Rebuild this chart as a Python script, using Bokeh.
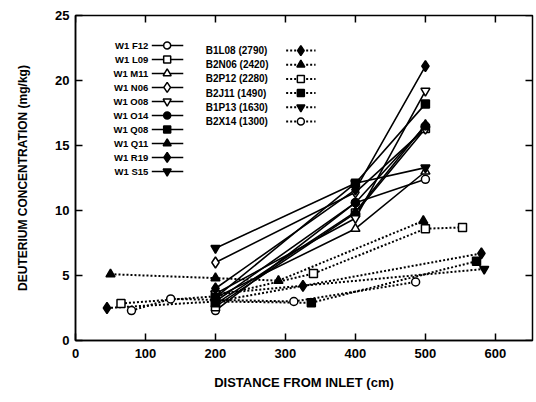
from bokeh.plotting import figure
from bokeh.models import Range1d, FixedTicker
from bokeh.embed import file_html
from bokeh.resources import INLINE
from bokeh.core.properties import value

# ---------------- data ----------------
x_ticks = [0, 100, 200, 300, 400, 500, 600]
y_ticks = [0, 5, 10, 15, 20, 25]

# W1 wells (solid lines), distance from inlet (cm)
w1_x = [200, 400, 500]
w1_names = ["W1 F12", "W1 L09", "W1 M11", "W1 N06", "W1 O08",
            "W1 O14", "W1 Q08", "W1 Q11", "W1 R19", "W1 S15"]
w1_markers = ["circle", "square", "triangle", "diamond", "inverted_triangle",
              "circle", "square", "triangle", "diamond", "inverted_triangle"]
w1_filled = [False, False, False, False, False, True, True, True, True, True]
w1_F12 = [2.3, 10.6, 12.4]
w1_L09 = [2.6, 9.8, 16.3]
w1_M11 = [3.3, 8.6, 13.0]
w1_N06 = [6.0, 11.4, 16.3]
w1_O08 = [3.6, 9.4, 19.2]
w1_O14 = [3.0, 10.6, 16.5]
w1_Q08 = [3.3, 12.1, 18.2]
w1_Q11 = [2.8, 9.9, 16.6]
w1_R19 = [4.0, 11.6, 21.1]
w1_S15 = [7.1, 12.1, 13.3]
w1_values = [w1_F12, w1_L09, w1_M11, w1_N06, w1_O08,
             w1_O14, w1_Q08, w1_Q11, w1_R19, w1_S15]

# B wells (dotted lines)
b_names = ["B1L08 (2790)", "B2N06 (2420)", "B2P12 (2280)",
           "B2J11 (1490)", "B1P13 (1630)", "B2X14 (1300)"]
b_markers = ["diamond", "triangle", "square", "square", "inverted_triangle", "circle"]
b_filled = [True, True, False, True, True, False]
b1l08_x = [45, 200, 325, 580]
b1l08_y = [2.5, 3.0, 4.2, 6.7]
b2n06_x = [50, 200, 290, 497]
b2n06_y = [5.1, 4.8, 4.6, 9.2]
b2p12_x = [65, 200, 340, 500, 553]
b2p12_y = [2.85, 3.4, 5.15, 8.6, 8.7]
b2j11_x = [200, 337, 573]
b2j11_y = [3.0, 2.9, 6.1]
b1p13_x = [200, 584]
b1p13_y = [3.6, 5.5]
b2x14_x = [80, 136, 312, 486]
b2x14_y = [2.3, 3.2, 3.0, 4.5]
b_xs = [b1l08_x, b2n06_x, b2p12_x, b2j11_x, b1p13_x, b2x14_x]
b_ys = [b1l08_y, b2n06_y, b2p12_y, b2j11_y, b1p13_y, b2x14_y]

FONT = "Liberation Sans"
DOT = "2 2"
X_MAX, Y_MAX = 653, 25

p = figure(width=536, height=400, output_backend="svg", toolbar_location=None,
           x_range=Range1d(0, X_MAX), y_range=Range1d(0, Y_MAX),
           min_border_left=75, min_border_right=4, min_border_top=15,
           min_border_bottom=60)
p.grid.visible = False
p.outline_line_color = "black"
p.outline_line_width = 1.5
p.background_fill_color = "white"
p.border_fill_color = "white"

for ax in (p.xaxis[0], p.yaxis[0]):
    ax.major_label_text_font = FONT
    ax.major_label_text_font_style = "bold"
    ax.major_label_text_font_size = "13px"
    ax.major_label_text_color = "black"
    ax.axis_label_text_font = FONT
    ax.axis_label_text_font_style = "bold"
    ax.axis_label_text_color = "black"
    ax.major_tick_in = 7
    ax.major_tick_out = 0
    ax.minor_tick_line_color = None
    ax.axis_line_width = 1.5
    ax.major_tick_line_width = 1.5

p.xaxis.ticker = FixedTicker(ticks=x_ticks)
p.yaxis.ticker = FixedTicker(ticks=y_ticks)
p.xaxis.axis_label = "DISTANCE FROM INLET (cm)"
p.yaxis.axis_label = "DEUTERIUM CONCENTRATION (mg/kg)"
p.xaxis.axis_label_text_font_size = "13px"
p.yaxis.axis_label_text_font_size = "12px"
p.xaxis.major_label_standoff = 8
p.yaxis.major_label_standoff = 6
p.xaxis.axis_label_standoff = 14
p.yaxis.axis_label_standoff = 22

# mirrored inward ticks on the top and right frame edges
top_len = 7 / 13.0      # 7 px in y units
right_len = 7 / 0.7     # 7 px in x units
p.segment(x0=x_ticks, y0=[Y_MAX] * len(x_ticks), x1=x_ticks,
          y1=[Y_MAX - top_len] * len(x_ticks), line_color="black", line_width=1.5)
p.segment(x0=[X_MAX] * len(y_ticks), y0=y_ticks, x1=[X_MAX - right_len] * len(y_ticks),
          y1=y_ticks, line_color="black", line_width=1.5)


def draw_marker(xs, ys, marker, filled, size=8):
    fill = "black" if filled else "white"
    if marker == "diamond":
        sz = size + 3
    elif "triangle" in marker:
        sz = size + 1
    else:
        sz = size
    p.scatter(xs, ys, marker=marker, size=sz, fill_color=fill,
              line_color="black", line_width=1.5)


# dotted B series
for xs, ys in zip(b_xs, b_ys):
    p.line(xs, ys, line_color="black", line_width=2, line_dash=DOT)
# solid W1 series
for ys in w1_values:
    p.line(w1_x, ys, line_color="black", line_width=1.6)
for xs, ys, m, f in zip(b_xs, b_ys, b_markers, b_filled):
    draw_marker(xs, ys, m, f)
for ys, m, f in zip(w1_values, w1_markers, w1_filled):
    draw_marker(w1_x, ys, m, f)

# ---------- legend (drawn in data space, text left of sample) ----------
lg1_text_x, lg1_x0, lg1_x1, lg1_mx = 104, 109, 154, 131
lg1_y0, lg1_dy = 22.7, 1.077
for i, (name, m, f) in enumerate(zip(w1_names, w1_markers, w1_filled)):
    y = lg1_y0 - i * lg1_dy
    p.text([lg1_text_x], [y], text=[name], text_align="right", text_baseline="middle",
           text_font=value(FONT), text_font_style="bold", text_font_size="9.5px",
           text_color="black")
    p.line([lg1_x0, lg1_x1], [y, y], line_color="black", line_width=1.5)
    draw_marker([lg1_mx], [y], m, f, size=7)

lg2_text_x, lg2_x0, lg2_x1, lg2_mx = 186, 301, 343, 322
lg2_y0, lg2_dy = 22.3, 1.09
for i, (name, m, f) in enumerate(zip(b_names, b_markers, b_filled)):
    y = lg2_y0 - i * lg2_dy
    p.text([lg2_text_x], [y], text=[name], text_align="left", text_baseline="middle",
           text_font=value(FONT), text_font_style="bold", text_font_size="10px",
           text_color="black")
    p.line([lg2_x0, lg2_x1], [y, y], line_color="black", line_width=2, line_dash=DOT)
    draw_marker([lg2_mx], [y], m, f, size=7)

open("out.html", "w").write(file_html(p, INLINE))
